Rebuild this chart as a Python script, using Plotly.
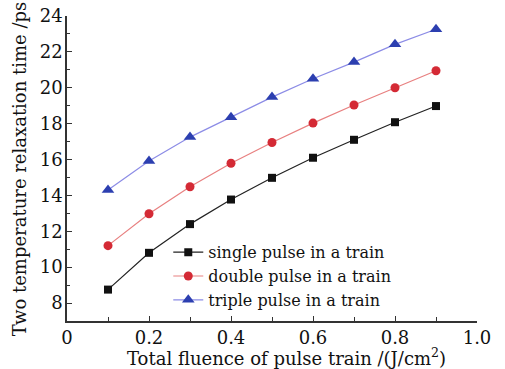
import plotly.graph_objects as go

fluence = [0.1, 0.2, 0.3, 0.4, 0.5, 0.6, 0.7, 0.8, 0.9]
single = [8.75, 10.8, 12.4, 13.77, 14.98, 16.1, 17.1, 18.08, 18.98]
double = [11.2, 12.98, 14.48, 15.79, 16.95, 18.03, 19.04, 20.0, 20.95]
triple = [14.3, 15.92, 17.25, 18.35, 19.48, 20.5, 21.43, 22.42, 23.26]
names = ["single pulse in a train", "double pulse in a train", "triple pulse in a train"]
xticks = [0, 0.2, 0.4, 0.6, 0.8, 1.0]
xticktext = ["0", "0.2", "0.4", "0.6", "0.8", "1.0"]
yticks = [8, 10, 12, 14, 16, 18, 20, 22, 24]
xtitle = "Total fluence of pulse train /(J/cm<sup>2</sup>)"
ytitle = "Two temperature relaxation time /ps"

font = "DejaVu Serif"
fig = go.Figure()
styles = [
    (single, "#222222", "#111111", "square", 8),
    (double, "#e88080", "#d42a35", "circle", 9),
    (triple, "#8c8ce6", "#2c3fb0", "triangle-up", 11),
]
for name, (vals, lc, mc, sym, sz) in zip(names, styles):
    fig.add_trace(go.Scatter(
        x=fluence, y=vals, name=name, mode="lines+markers",
        line=dict(color=lc, width=1.2),
        marker=dict(color=mc, symbol=sym, size=sz),
    ))

fig.update_layout(
    width=505, height=369,
    margin=dict(l=67, r=28, t=16, b=48, autoexpand=False),
    paper_bgcolor="white", plot_bgcolor="white",
    font=dict(family=font, size=17, color="#111"),
    showlegend=True,
    legend=dict(x=0.247, y=0.281, xanchor="left", yanchor="top",
                bgcolor="rgba(0,0,0,0)", font=dict(size=16, family=font),
                tracegroupgap=0, itemwidth=30),
    annotations=[
        dict(text=xtitle, xref="paper", yref="paper", x=0.535, y=-0.118,
             xanchor="center", yanchor="middle", showarrow=False,
             font=dict(size=18, family=font)),
        dict(text=ytitle, xref="paper", yref="paper", x=-0.115, y=0.50,
             xanchor="center", yanchor="middle", showarrow=False, textangle=-90,
             font=dict(size=18, family=font)),
    ],
)
fig.update_xaxes(
    range=[0, 1.0], tickvals=xticks, ticktext=xticktext, automargin=False,
    showline=True, linecolor="#333", linewidth=1.5, showgrid=False, zeroline=False,
    ticks="inside", ticklen=5, tickcolor="#333",
    minor=dict(dtick=0.1, ticks="inside", ticklen=4, tickcolor="#333", showgrid=False),
    tickfont=dict(size=18),
)
fig.update_yaxes(
    range=[7, 24], tickvals=yticks, automargin=False,
    showline=True, linecolor="#333", linewidth=1.5, showgrid=False, zeroline=False,
    ticks="inside", ticklen=5, tickcolor="#333", ticklabelstandoff=-1,
    minor=dict(dtick=1, ticks="inside", ticklen=3, tickcolor="#333", showgrid=False),
    tickfont=dict(size=18),
)
fig.write_html("out.html", config={"displayModeBar": False},
               post_script="document.body.style.margin='0px';")
